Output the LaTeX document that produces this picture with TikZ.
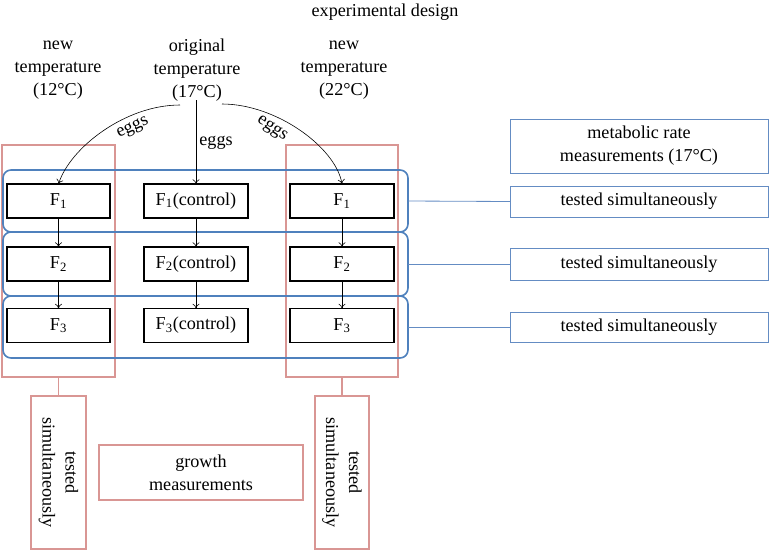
\documentclass[tikz,border=0pt]{standalone}
\usepackage{fontspec}
\setmainfont{Liberation Serif}
\usetikzlibrary{arrows.meta}
\begin{document}
\begin{tikzpicture}[x=0.03cm,y=-0.03cm,
  every node/.style={font=\fontsize{15.5}{19.6}\selectfont},
  sz/.style 2 args={minimum width=#1*0.03cm, minimum height=#2*0.03cm, inner sep=0pt, outer sep=0pt},
  fbox/.style={draw=black, line width=1.6pt},
  redbox/.style={draw=redc, line width=1.4pt},
  rowbox/.style={draw=bluec, line width=1.4pt, rounded corners=0.24cm},
  infobox/.style={draw=bluel, line width=0.7pt},
  hdr/.style={align=center, inner sep=0pt},
  arr/.style={-{To[length=4pt,width=6pt]}, line width=0.5pt},
]
\definecolor{redc}{RGB}{217,150,148}
\definecolor{bluec}{RGB}{79,129,189}
\definecolor{bluel}{RGB}{100,140,195}
\useasboundingbox (0,0) rectangle (770,551);

\node[hdr] (title) at (385,12) {experimental design};
\node[hdr] (hL) at (58,70) {new\\temperature\\(12°C)};
\node[hdr] (hM) at (197,70) {original\\temperature\\(17°C)};
\node[hdr] (hR) at (344,70) {new\\temperature\\(22°C)};

% red column boxes
\node[redbox, sz={113}{232}] (redL) at (58.5,261) {};
\node[redbox, sz={112}{232}] (redR) at (342,261) {};

% blue row boxes
\node[rowbox, sz={405}{62}] (row1) at (205.5,201) {};
\node[rowbox, sz={405}{64}] (row2) at (205.5,264) {};
\node[rowbox, sz={405}{62}] (row3) at (205.5,327) {};

% F boxes
\foreach \r/\y in {1/201,2/264,3/325.5}{
  \node[fbox, sz={103}{34}, fill=white] (L\r) at (58.5,\y) {F\textsubscript{\r}};
  \node[fbox, sz={104}{34}, fill=white] (M\r) at (196,\y) {F\textsubscript{\r}(control)};
  \node[fbox, sz={104}{34}, fill=white] (R\r) at (342,\y) {F\textsubscript{\r}};
}
\foreach \c in {L,M,R}{
  \draw[arr] (\c1.south) -- (\c2.north);
  \draw[arr] (\c2.south) -- (\c3.north);
}

% eggs arrows
\coordinate (sL) at (180,105);
\coordinate (sR) at (222,104);
\coordinate (sM) at (196,100);
\draw[arr] (sL) .. controls (125,105) and (70,148) .. (L1.north);
\draw[arr] (sR) .. controls (277,104) and (336,148) .. (R1.north);
\draw[arr] (sM) -- (M1.north);
\node[rotate=25, inner sep=0pt] (eL) at (133,128) {eggs};
\node[rotate=-34, inner sep=0pt] (eR) at (272,129) {eggs};
\node[inner sep=0pt] (eM) at (216,143) {eggs};

% right info boxes
\node[infobox, sz={258}{54}, align=center] (met) at (639,146) {metabolic rate\\measurements (17°C)};
\node[infobox, sz={258}{31}] (t1) at (639,201.5) {tested simultaneously};
\node[infobox, sz={258}{32}] (t2) at (639,264) {tested simultaneously};
\node[infobox, sz={258}{30}] (t3) at (639,327) {tested simultaneously};
\draw[bluel, line width=0.7pt] (row1.east) -- (t1.west);
\draw[bluel, line width=0.7pt] (row2.east) -- (t2.west);
\draw[bluel, line width=0.7pt] (row3.east) -- (t3.west);

% bottom boxes
\node[redbox, sz={55}{153}] (vL) at (58.5,472.5) {};
\node[rotate=-90, align=center] (vLt) at (vL.center) {tested\\simultaneously};
\node[redbox, sz={54}{153}] (vR) at (342,472.5) {};
\node[rotate=-90, align=center] (vRt) at (vR.center) {tested\\simultaneously};
\node[redbox, sz={204}{55}, align=center] (grow) at (201,472.5) {growth\\measurements};
\draw[redc, line width=1.4pt] (redL.south) -- (vL.north);
\draw[redc, line width=1.4pt] (redR.south) -- (vR.north);
\end{tikzpicture}
\end{document}
